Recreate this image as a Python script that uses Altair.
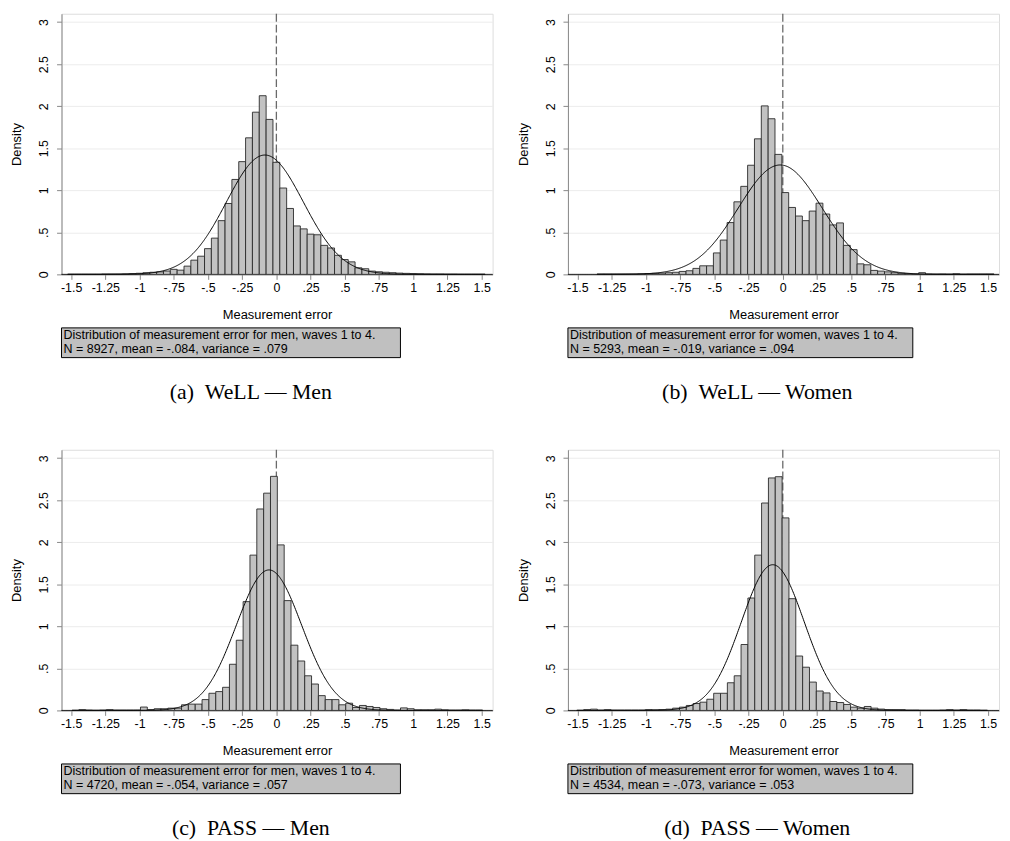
import altair as alt
import pandas as pd

BIN_W = 0.05

# ---- Panel (a) WeLL - Men : bin heights (density), first bin left edge
a_first_edge = -1.525
a_heights = [0.003, 0.003, 0.003, 0.003, 0.003, 0.005, 0.005, 0.005, 0.007, 0.010,
             0.013, 0.020, 0.025, 0.030, 0.040, 0.060, 0.050, 0.098, 0.169, 0.216,
             0.306, 0.431, 0.639, 0.843, 1.129, 1.341, 1.624, 1.929, 2.125, 1.843,
             1.333, 1.027, 0.784, 0.576, 0.541, 0.478, 0.471, 0.345, 0.314, 0.227,
             0.176, 0.149, 0.078, 0.067, 0.039, 0.031, 0.025, 0.020, 0.015, 0.012,
             0.010, 0.008, 0.006, 0.005, 0.005, 0.004, 0.004, 0.003, 0.003, 0.003, 0.003]

# ---- Panel (b) WeLL - Women
b_first_edge = -1.357
b_heights = [0.005, 0.005, 0.005, 0.005, 0.005, 0.005, 0.007, 0.010, 0.012, 0.015,
             0.020, 0.025, 0.035, 0.043, 0.071, 0.102, 0.102, 0.255, 0.408, 0.616,
             0.863, 1.047, 1.298, 1.612, 2.004, 1.851, 1.427, 0.973, 0.796, 0.694,
             0.639, 0.753, 0.847, 0.718, 0.588, 0.612, 0.345, 0.294, 0.125, 0.114,
             0.047, 0.039, 0.030, 0.020, 0.012, 0.008, 0.005, 0.020, 0.005, 0.004,
             0.005, 0.004, 0.008, 0.004, 0.005, 0.005, 0.005, 0.005]

# ---- Panel (c) PASS - Men
c_first_edge = -1.493
c_heights = [0.003, 0.010, 0.005, 0.003, 0.005, 0.010, 0.005, 0.005, 0.005, 0.005,
             0.040, 0.010, 0.020, 0.020, 0.027, 0.027, 0.067, 0.075, 0.075, 0.129,
             0.204, 0.224, 0.275, 0.549, 0.835, 1.294, 1.847, 2.396, 2.584, 2.784,
             1.969, 1.306, 0.776, 0.588, 0.412, 0.314, 0.176, 0.129, 0.129, 0.067,
             0.086, 0.035, 0.059, 0.047, 0.035, 0.020, 0.012, 0.005, 0.030, 0.020,
             0.008, 0.008, 0.008, 0.015, 0.008, 0.005, 0.005, 0.008, 0.005, 0.005]

# ---- Panel (d) PASS - Women
d_first_edge = -1.505
d_heights = [0.003, 0.010, 0.015, 0.005, 0.010, 0.005, 0.005, 0.005, 0.005, 0.005,
             0.010, 0.008, 0.010, 0.015, 0.027, 0.039, 0.059, 0.082, 0.098, 0.133,
             0.204, 0.204, 0.329, 0.412, 0.784, 1.337, 1.847, 2.467, 2.765, 2.780,
             2.290, 1.329, 0.647, 0.514, 0.337, 0.231, 0.208, 0.106, 0.094, 0.071,
             0.039, 0.027, 0.047, 0.027, 0.016, 0.010, 0.010, 0.010, 0.005, 0.005,
             0.003, 0.003, 0.003, 0.005, 0.010, 0.005, 0.010, 0.005, 0.005, 0.003]

# normal overlay parameters (mean, variance) from the notes
means = [-0.084, -0.019, -0.054, -0.073]
variances = [0.079, 0.094, 0.057, 0.053]
ns = [8927, 5293, 4720, 4534]
sexes = ["men", "women", "men", "women"]
captions = ["(a)\u2002WeLL \u2014 Men", "(b)\u2002WeLL \u2014 Women",
            "(c)\u2002PASS \u2014 Men", "(d)\u2002PASS \u2014 Women"]
box_widths = [342, 348, 342, 348]

x_ticks = [-1.5, -1.25, -1.0, -0.75, -0.5, -0.25, 0.0, 0.25, 0.5, 0.75, 1.0, 1.25, 1.5]
y_ticks = [0, 0.5, 1, 1.5, 2, 2.5, 3]

X_DOMAIN = [-1.57, 1.58]
Y_DOMAIN = [0, 3.1]
W, H = 435, 263

stata_fmt = ("(datum.value < 0 ? '-' : '') + (abs(datum.value) < 1 && datum.value != 0 ? "
             "substring(format(abs(datum.value), ''), 1) : format(abs(datum.value), ''))")

xscale = alt.Scale(domain=X_DOMAIN, nice=False, zero=False)
yscale = alt.Scale(domain=Y_DOMAIN, nice=False, zero=False)
xaxis = alt.Axis(values=x_ticks, labelExpr=stata_fmt, title="Measurement error",
                 grid=False, tickSize=5, labelPadding=2, titlePadding=15,
                 labelFontSize=12.5, titleFontSize=13, titleFontWeight="normal",
                 labelFlush=False, labelOverlap=False)
yaxis = alt.Axis(values=y_ticks, labelExpr=stata_fmt, title="Density", grid=True,
                 gridColor="#ececec", tickSize=5, labelAngle=-90, labelAlign="center",
                 labelBaseline="bottom", labelPadding=6, titlePadding=14,
                 labelFontSize=12.5, titleFontSize=13, titleFontWeight="normal",
                 labelFlush=False, labelOverlap=False)


def panel(first_edge, heights, mean, var, n, sex, caption, box_w):
    edges = [first_edge + i * BIN_W for i in range(len(heights))]
    df = pd.DataFrame({"x0": edges, "x1": [e + BIN_W for e in edges], "h": heights})
    info = pd.DataFrame({
        "n1": [f"Distribution of measurement error for {sex}, waves 1 to 4."],
        "n2": [f"N = {n}, mean = {str(mean).replace('0.', '.')}, variance = {str(var).replace('0.', '.')}"],
        "cap": [caption],
    })
    rule = alt.Chart(pd.DataFrame({"x": [0.0]})).mark_rule(
        color="#6a6a6a", strokeWidth=1.3, strokeDash=[8, 3]
    ).encode(x=alt.X("x:Q", scale=xscale, axis=xaxis))
    bars = alt.Chart(df).mark_rect(fill="#c2c2c2", stroke="#2a2a2a", strokeWidth=0.9).encode(
        x=alt.X("x0:Q", scale=xscale, axis=xaxis), x2="x1",
        y=alt.Y("h:Q", scale=yscale, axis=yaxis), y2=alt.datum(0))
    curve = alt.Chart(alt.sequence(X_DOMAIN[0], X_DOMAIN[1], 0.005, as_="x")).transform_calculate(
        d=f"densityNormal(datum.x, {mean}, sqrt({var}))"
    ).mark_line(color="black", strokeWidth=1).encode(
        x=alt.X("x:Q", scale=xscale, axis=xaxis),
        y=alt.Y("d:Q", scale=yscale, axis=yaxis))
    box = alt.Chart(info).mark_rect(fill="#c0c0c0", stroke="black", strokeWidth=1).encode(
        x=alt.value(0), x2=alt.value(box_w), y=alt.value(317), y2=alt.value(347))
    t1 = alt.Chart(info).mark_text(align="left", baseline="middle", fontSize=12.6,
                                   font="Liberation Sans", color="black").encode(
        x=alt.value(2), y=alt.value(324.5), text="n1:N")
    t2 = alt.Chart(info).mark_text(align="left", baseline="middle", fontSize=12.6,
                                   font="Liberation Sans", color="black").encode(
        x=alt.value(2), y=alt.value(338.5), text="n2:N")
    cap = alt.Chart(info).mark_text(align="center", baseline="middle", fontSize=22,
                                    font="Liberation Serif", color="black").encode(
        x=alt.value(191), y=alt.value(382), text="cap:N")
    return alt.layer(rule, bars, curve, box, t1, t2, cap).properties(width=W, height=H)


firsts = [a_first_edge, b_first_edge, c_first_edge, d_first_edge]
hs = [a_heights, b_heights, c_heights, d_heights]
panels = [panel(firsts[i], hs[i], means[i], variances[i], ns[i], sexes[i], captions[i], box_widths[i])
          for i in range(4)]

chart = alt.concat(
    *panels, columns=2, spacing={"row": 177, "column": 76}, bounds="flush",
    padding={"left": 2, "top": 0, "right": 0, "bottom": 0},
).configure_view(stroke=None).configure_axis(
    domainColor="black", tickColor="black", labelColor="black", titleColor="black",
    labelFont="Liberation Sans", titleFont="Liberation Sans", titleFontWeight="normal",
    domainWidth=1, tickWidth=1,
).configure(background="white")

chart.save("out.html", embed_options={"renderer": "svg", "actions": False})
